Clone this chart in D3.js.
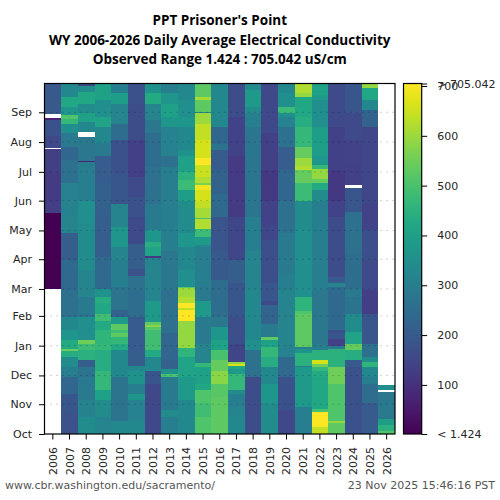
<!DOCTYPE html>
<html>
<head>
<meta charset="utf-8">
<script src="https://cdn.jsdelivr.net/npm/d3@7"></script>
<style>
body{margin:0;background:#fff}
svg{display:block}
text{font-family:"DejaVu Sans",sans-serif;font-size:11px;fill:#262626}
.title{font-family:"Open Sans",sans-serif;font-weight:700;font-size:13.5px;fill:#000;text-anchor:middle}
.foot{fill:#555}
</style>
</head>
<body>
<div id="chart"></div>
<script>
// [start day of water year (0 = 1 Oct), uS/cm], holds until next start. null = no data
var wy2006 = [[0,null],[151,2],[230,128],[243,125],[273,132],[297,null],[298,155],[310,175],[327,70],[329,null],[333,195]]
var wy2007 = [[0,180],[21,190],[42,230],[59,300],[70,340],[80,440],[86,545],[88,430],[98,370],[108,330],[122,260],[150,240],[181,210],[209,320],[226,310],[261,260],[285,230],[299,290],[313,350],[323,470],[328,510],[332,370],[341,420],[351,330]]
var wy2008 = [[0,340],[18,310],[35,290],[59,270],[70,210],[77,450],[87,480],[94,550],[98,350],[122,270],[125,290],[143,320],[171,340],[219,350],[243,300],[283,70],[284,280],[309,null],[315,330],[325,400],[334,340],[344,420],[356,340],[362,150]]
var wy2009 = [[0,320],[18,340],[35,400],[46,470],[66,440],[87,470],[94,460],[108,430],[118,490],[125,420],[136,440],[143,360],[151,240],[184,210],[226,215],[261,205],[290,290],[303,330],[320,410],[330,350],[348,400]]
var wy2010 = [[0,330],[14,270],[59,330],[87,430],[94,470],[101,530],[105,490],[108,530],[115,380],[122,220],[129,270],[153,300],[181,320],[195,370],[216,320],[240,190],[271,175],[306,250],[323,320],[344,390],[355,300]]
var wy2011 = [[0,330],[14,310],[35,370],[42,300],[52,360],[66,330],[71,210],[87,200],[122,250],[150,260],[165,180],[172,210],[198,160],[226,175],[247,160],[268,135],[306,165],[344,175]]
var wy2012 = [[0,155],[52,190],[66,330],[80,430],[87,490],[108,520],[111,580],[113,530],[117,380],[139,320],[183,120],[185,410],[195,440],[200,370],[212,290],[240,260],[278,250],[313,280],[327,320],[344,430],[355,360]]
var wy2013 = [[0,300],[18,340],[25,290],[59,500],[63,360],[68,220],[77,230],[105,260],[150,280],[191,300],[278,260],[290,310],[320,370],[330,400],[344,370],[355,300]]
var wy2014 = [[0,330],[35,380],[59,410],[80,460],[90,590],[118,705],[129,640],[131,700],[136,620],[143,600],[152,520],[153,350],[171,330],[195,370],[209,340],[243,390],[254,480],[264,450],[273,400],[289,360],[296,330],[320,370],[330,350],[348,330]]
var wy2015 = [[0,510],[18,490],[32,510],[46,420],[52,400],[70,470],[74,320],[94,290],[122,380],[139,290],[153,300],[195,330],[197,380],[205,480],[214,620],[224,500],[225,610],[235,640],[243,660],[254,690],[259,560],[261,620],[268,650],[280,700],[287,660],[306,640],[323,600],[334,330],[335,530],[348,610],[351,530]]
var wy2016 = [[0,530],[39,520],[52,580],[66,540],[77,500],[87,400],[98,370],[111,280],[122,250],[160,195],[191,185],[226,240],[250,220],[275,200],[296,270],[302,230],[320,330]]
var wy2017 = [[0,330],[18,320],[28,300],[42,340],[46,470],[63,380],[68,420],[71,660],[73,590],[75,145],[94,170],[122,190],[157,210],[181,150],[226,125],[264,125],[289,140],[330,165]]
var wy2018 = [[0,165],[59,260],[87,350],[98,330],[150,320],[191,300],[226,275],[320,300],[334,340],[341,380],[358,340]]
var wy2019 = [[0,340],[32,370],[52,330],[70,440],[80,470],[91,400],[98,530],[101,290],[115,225],[134,160],[139,190],[157,170],[202,150],[216,140],[243,120],[261,115],[275,135],[313,155]]
var wy2020 = [[0,155],[25,175],[59,240],[80,310],[91,320],[150,300],[167,290],[209,260],[243,230],[275,205],[299,260],[320,310],[330,350],[334,480],[341,350],[355,330]]
var wy2021 = [[0,300],[28,380],[70,300],[71,450],[84,360],[89,300],[91,530],[125,510],[128,460],[143,350],[212,340],[243,480],[261,540],[275,620],[279,600],[287,540],[299,470],[320,440],[330,420],[351,590],[355,620]]
var wy2022 = [[0,640],[7,705],[23,500],[26,420],[59,430],[66,470],[70,550],[73,660],[77,450],[87,300],[94,280],[150,300],[243,340],[254,430],[261,540],[266,590],[276,470],[280,370],[290,390],[320,350],[348,380],[353,400]]
var wy2023 = [[0,530],[11,590],[14,510],[52,550],[70,450],[89,290],[92,135],[99,190],[105,170],[108,240],[153,320],[157,200],[164,165],[226,140],[243,115],[275,135],[320,160]]
var wy2024 = [[0,175],[70,200],[77,440],[87,540],[94,410],[106,340],[125,270],[143,290],[151,250],[188,260],[231,190],[256,null],[259,135],[282,140],[306,160],[334,190]]
var wy2025 = [[0,200],[32,250],[52,300],[59,330],[70,460],[75,340],[80,260],[94,190],[125,130],[150,160],[181,170],[212,140],[240,150],[320,220],[337,330],[348,420],[360,590]]
var wy2026 = [[0,510],[3,450],[9,390],[16,290],[32,280],[44,null],[46,350],[51,null]]

var yearLabels = ["2006","2007","2008","2009","2010","2011","2012","2013","2014","2015","2016","2017","2018","2019","2020","2021","2022","2023","2024","2025","2026"]
var yearRuns = [wy2006,wy2007,wy2008,wy2009,wy2010,wy2011,wy2012,wy2013,wy2014,wy2015,wy2016,wy2017,wy2018,wy2019,wy2020,wy2021,wy2022,wy2023,wy2024,wy2025,wy2026]
var monthLabels = ["Oct","Nov","Dec","Jan","Feb","Mar","Apr","May","Jun","Jul","Aug","Sep"]
var monthDays = [0,31,61,92,123,151,182,212,243,273,304,335]
var colorTicks = [100,200,300,400,500,600,700]
var titleLines = ["PPT Prisoner's Point","WY 2006-2026 Daily Average Electrical Conductivity","Observed Range 1.424 : 705.042 uS/cm"]
var minValue = 1.424
var maxValue = 705.042

var margin = {top:83.5,left:44.5,right:105,bottom:66}
var width = 500-margin.left-margin.right
var height = 500-margin.top-margin.bottom

var svg = d3.select("#chart").append("svg").attr("width",500).attr("height",500)
var g = svg.append("g").attr("transform","translate("+margin.left+","+margin.top+")")

var x = d3.scaleBand().domain(yearLabels).range([0,width])
var y = d3.scaleLinear().domain([0,365]).range([height,0])
var color = d3.scaleSequential(d3.interpolateViridis).domain([minValue,maxValue])

// flatten runs into rects
var cells = []
yearRuns.forEach(function(runs,i){
	runs.forEach(function(r,j){
		var end = j<runs.length-1 ? runs[j+1][0] : 365
		if(r[1]!=null) cells.push({year:yearLabels[i],start:r[0],end:end,value:r[1]})
	})
})

g.selectAll(".cell").data(cells).enter().append("rect")
	.attr("class","cell")
	.attr("x",function(d){return x(d.year)})
	.attr("width",x.bandwidth())
	.attr("y",function(d){return y(d.end)})
	.attr("height",function(d){return y(d.start)-y(d.end)})
	.attr("fill",function(d){return color(d.value)})
	.attr("shape-rendering","crispEdges")

// dotted month lines
g.selectAll(".grid").data(monthDays.slice(1)).enter().append("line")
	.attr("x1",0).attr("x2",width)
	.attr("y1",function(d){return y(d)}).attr("y2",function(d){return y(d)})
	.attr("stroke","#000").attr("stroke-opacity",.35).attr("stroke-dasharray","1,5")

g.append("rect").attr("width",width).attr("height",height)
	.attr("fill","none").attr("stroke","#000").attr("stroke-width",1.2)

var yAxis = g.append("g").call(d3.axisLeft(y).tickValues(monthDays).tickSize(5.5).tickPadding(7)
	.tickFormat(function(d,i){return monthLabels[i]}))
var xAxis = g.append("g").attr("transform","translate(0,"+height+")").call(d3.axisBottom(x).tickSize(5.5))
yAxis.select(".domain").remove()
xAxis.select(".domain").remove()
xAxis.selectAll("text")
	.attr("transform","rotate(-90)")
	.attr("x",-13).attr("y",0).attr("dy",".36em")
	.attr("text-anchor","end")
g.selectAll(".tick text").style("font-size","11px").style("font-family","'DejaVu Sans'")

// colour bar
var barX = 403.5
var barW = 18.2
var bar = svg.append("g").attr("transform","translate("+barX+","+margin.top+")")
var cy = d3.scaleLinear().domain([minValue,maxValue]).range([height,0])
var grad = svg.append("defs").append("linearGradient").attr("id","viridis")
	.attr("x1",0).attr("x2",0).attr("y1",1).attr("y2",0)
grad.selectAll("stop").data(d3.range(0,1.01,.05)).enter().append("stop")
	.attr("offset",function(d){return d})
	.attr("stop-color",function(d){return d3.interpolateViridis(d)})
bar.append("rect").attr("width",barW).attr("height",height)
	.attr("fill","url(#viridis)").attr("stroke","#000").attr("stroke-width",1.2)
var barAxis = bar.append("g").attr("transform","translate("+barW+",0)")
	.call(d3.axisRight(cy).tickValues([minValue].concat(colorTicks,[maxValue])).tickSize(5.5).tickPadding(10)
	.tickFormat(function(d){
		if(d==minValue) return "< "+minValue
		if(d==maxValue) return "> "+maxValue
		return d
	}))
barAxis.select(".domain").remove()
barAxis.selectAll("text").style("font-size","11px").style("font-family","'DejaVu Sans'")

svg.selectAll(".title").data(titleLines).enter().append("text")
	.attr("class","title")
	.attr("x",margin.left+width/2)
	.attr("y",function(d,i){return 25+i*19.5})
	.text(function(d){return d})

svg.append("text").attr("class","foot").attr("x",5).attr("y",489).text("www.cbr.washington.edu/sacramento/")
svg.append("text").attr("class","foot").attr("x",495).attr("y",489).attr("text-anchor","end").text("23 Nov 2025 15:46:16 PST")
</script>
</body>
</html>
